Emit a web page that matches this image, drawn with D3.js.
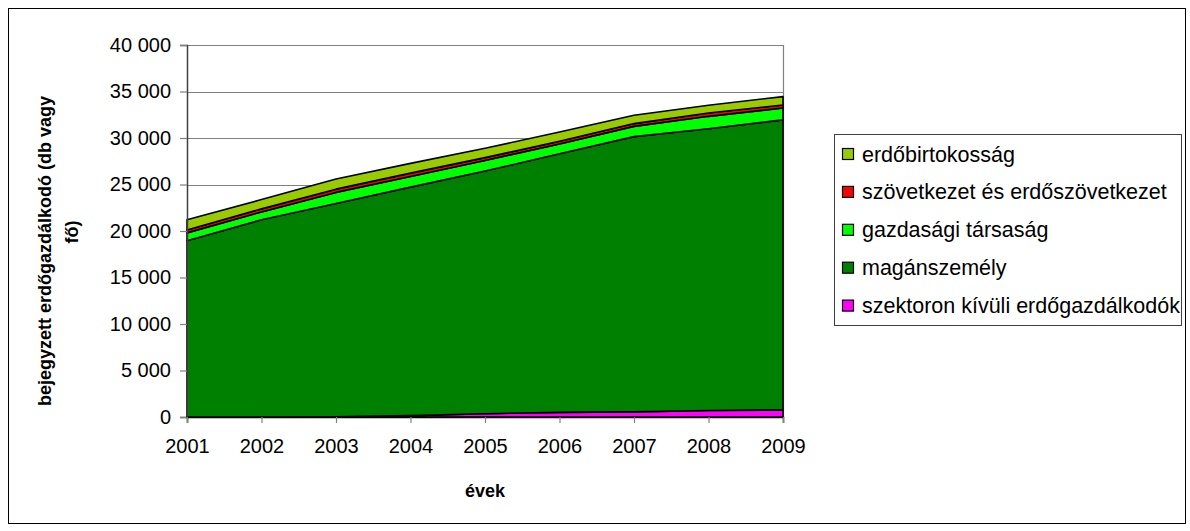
<!DOCTYPE html>
<html>
<head>
<meta charset="utf-8">
<script src="https://cdn.jsdelivr.net/npm/d3@7"></script>
<style>
  body { margin: 0; background: #fff; }
  svg text { font-family: "Liberation Sans", Arial, sans-serif; fill: #000; }
</style>
</head>
<body>
<svg id="chart" width="1190" height="531"></svg>
<script>
// data
const years = [2001, 2002, 2003, 2004, 2005, 2006, 2007, 2008, 2009];
const szektoron = [0, 0, 20, 150, 350, 500, 550, 700, 750];
const maganszemely = [18950, 21200, 22930, 24570, 26100, 27800, 29600, 30300, 31200];
const gazdasagi = [850, 850, 1200, 1150, 1140, 1050, 1100, 1330, 1270];
const szovetkezet = [300, 330, 350, 350, 300, 300, 300, 350, 330];
const erdobirtokossag = [1100, 1000, 1100, 1050, 1000, 1000, 900, 850, 900];
const yTicks = [0, 5000, 10000, 15000, 20000, 25000, 30000, 35000, 40000];

// stacking order, bottom to top
const series = [
  { key: "szektoron kívüli erdőgazdálkodók", values: szektoron, color: "#FF00FF" },
  { key: "magánszemély", values: maganszemely, color: "#008000" },
  { key: "gazdasági társaság", values: gazdasagi, color: "#00FF00" },
  { key: "szövetkezet és erdőszövetkezet", values: szovetkezet, color: "#FF0000" },
  { key: "erdőbirtokosság", values: erdobirtokossag, color: "#99CC00" }
];

const rows = years.map((yr, i) => {
  const r = { year: yr };
  series.forEach(s => r[s.key] = s.values[i]);
  return r;
});

const svg = d3.select("#chart");
const plotLeft = 187, plotRight = 783, plotTop = 45, plotBottom = 417;

const x = d3.scaleLinear().domain([2001, 2009]).range([plotLeft, plotRight]);
const y = d3.scaleLinear().domain([0, 40000]).range([plotBottom, plotTop]);
const fmt = d3.formatLocale({ decimal: ",", thousands: " ", grouping: [3], currency: ["", ""] }).format(",d");

// outer frame
svg.append("rect").attr("x", 8.5).attr("y", 8.5).attr("width", 1177).attr("height", 515)
  .style("fill", "none").style("stroke", "#000").style("stroke-width", 1);

// gridlines
svg.append("g").selectAll("line.grid")
  .data(yTicks.slice(1)).enter()
  .append("line").attr("class", "grid")
  .attr("x1", plotLeft).attr("x2", plotRight)
  .attr("y1", d => Math.round(y(d)) + 0.5).attr("y2", d => Math.round(y(d)) + 0.5)
  .style("stroke", "#808080").style("stroke-width", 1.2);
svg.append("line").attr("x1", plotRight + 0.5).attr("x2", plotRight + 0.5).attr("y1", plotTop).attr("y2", plotBottom)
  .style("stroke", "#808080").style("stroke-width", 1.2);

// stacked areas
const stack = d3.stack().keys(series.map(s => s.key));
const layers = stack(rows);
const area = d3.area()
  .x(d => x(d.data.year))
  .y0(d => y(d[0]))
  .y1(d => y(d[1]));

svg.append("g").selectAll("path.layer")
  .data(layers).enter()
  .append("path").attr("class", "layer")
  .attr("d", area)
  .style("fill", (d, i) => series[i].color)
  .style("stroke", "#000")
  .style("stroke-width", 1.6)
  .style("stroke-linejoin", "round");

// y axis
const yAxis = d3.axisLeft(y).tickValues(yTicks).tickFormat(fmt).tickSize(7).tickPadding(9);
const gy = svg.append("g").attr("transform", `translate(${plotLeft},0)`).call(yAxis);
gy.select(".domain").style("stroke", "#404040").style("stroke-width", 1.5);
gy.selectAll(".tick line").style("stroke", "#808080").style("stroke-width", 1.2);
gy.selectAll(".tick text").style("font-size", "20px").style("font-family", "Liberation Sans, Arial, sans-serif");

// x axis
const xAxis = d3.axisBottom(x).tickValues(years).tickFormat(d3.format("d")).tickSize(6).tickPadding(16);
const gx = svg.append("g").attr("transform", `translate(0,${plotBottom})`).call(xAxis);
gx.select(".domain").style("stroke", "#000").style("stroke-width", 1.5);
gx.selectAll(".tick line").style("stroke", "#808080").style("stroke-width", 1.2);
gx.selectAll(".tick text").style("font-size", "20px").style("font-family", "Liberation Sans, Arial, sans-serif");

// axis titles
svg.append("text").attr("x", 485).attr("y", 497).attr("text-anchor", "middle")
  .style("font-size", "18px").style("font-weight", "bold").text("évek");
svg.append("text").attr("transform", "translate(51,251) rotate(-90)").attr("text-anchor", "middle")
  .style("font-size", "18px").style("font-weight", "bold").text("bejegyzett erdőgazdálkodó (db vagy");
svg.append("text").attr("transform", "translate(78,232) rotate(-90)").attr("text-anchor", "middle")
  .style("font-size", "18px").style("font-weight", "bold").text("fő)");

// legend, top entry is the top layer
svg.append("rect").attr("x", 834.5).attr("y", 134.5).attr("width", 347).attr("height", 191)
  .style("fill", "#fff").style("stroke", "#404040").style("stroke-width", 1);
const legend = svg.append("g").selectAll("g.legend")
  .data(series.slice().reverse()).enter()
  .append("g").attr("class", "legend")
  .attr("transform", (d, i) => `translate(842,${154 + i * 37.9})`);
legend.append("rect").attr("x", 0.5).attr("y", -5.5).attr("width", 11).attr("height", 11)
  .style("fill", d => d.color).style("stroke", "#000").style("stroke-width", 1.2);
legend.append("text").attr("x", 20).attr("y", 0).attr("dy", "0.35em")
  .style("font-size", "21.5px").text(d => d.key);
</script>
</body>
</html>
